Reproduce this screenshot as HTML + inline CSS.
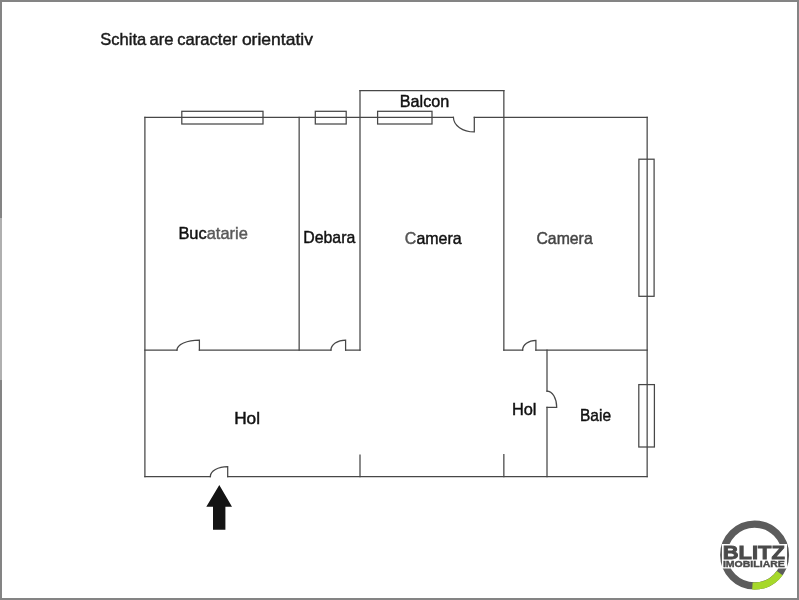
<!DOCTYPE html>
<html>
<head>
<meta charset="utf-8">
<style>
html, body { margin: 0; padding: 0; background: #fff; }
body { width: 799px; height: 600px; overflow: hidden; position: relative; }
svg { position: absolute; left: 0; top: 0; display: block; will-change: transform; }
text { font-family: "Liberation Sans", sans-serif; }
</style>
</head>
<body>
<svg width="799" height="600" viewBox="0 0 799 600">
  <rect x="0" y="0" width="799" height="600" fill="#ffffff"/>
  <!-- outer frame border -->
  <rect x="1" y="1" width="797" height="598" fill="none" stroke="#848484" stroke-width="2"/>
  <rect x="0" y="218" width="2" height="162" fill="#b0b0b0"/>

  <g font-size="17" fill="#1a1a1a" stroke="#1a1a1a" stroke-width="0.45">
    <text x="100.3" y="45.3" textLength="46" lengthAdjust="spacingAndGlyphs">Schita</text>
    <text x="149.6" y="45.3" textLength="24" lengthAdjust="spacingAndGlyphs">are</text>
    <text x="177.2" y="45.3" textLength="60" lengthAdjust="spacingAndGlyphs">caracter</text>
    <text x="241.9" y="45.3" textLength="71" lengthAdjust="spacingAndGlyphs">orientativ</text>
  </g>

  <g fill="none" stroke="#474747" stroke-width="1.25" stroke-linecap="square">
    <!-- top wall with balcony door gap -->
    <path d="M144.9,117.35 H453.4 M474.3,117.35 H647.15"/>
    <!-- left, right walls -->
    <path d="M144.9,117.35 V476.5 M647.15,117.35 V476.5"/>
    <!-- bottom wall with entrance gap -->
    <path d="M144.9,476.5 H210.3 M227.7,476.5 H647.15"/>
    <!-- interior horizontal -->
    <path d="M144.9,350.0 H176.9 M199.4,350.0 H330.9 M345.6,350.0 H360.0 M503.85,350.0 H522.6 M535.9,350.0 H647.15"/>
    <!-- verticals -->
    <path d="M299.15,117.35 V350.0 M360.0,90.6 V350.0 M503.85,90.6 V350.0 M360.0,455 V476.5 M503.85,454.6 V476.5"/>
    <path d="M547.0,350.0 V391 M547.0,407.3 V476.5"/>
    <!-- balcony top -->
    <path d="M360.0,90.6 H503.85"/>
    <!-- windows -->
    <rect x="181.8" y="111.3" width="81.2" height="12.7"/>
    <rect x="315.3" y="111.3" width="30.9" height="12.7"/>
    <rect x="377.6" y="111.3" width="54.4" height="12.7"/>
    <rect x="638.9" y="159.2" width="15.2" height="137.1"/>
    <rect x="638.8" y="384.6" width="15.6" height="62.4"/>
    <!-- doors -->
    <path d="M453.4,117.35 A20.9,14.6 0 0 0 474.3,131.95 L474.3,117.35"/>
    <path d="M176.9,350.0 A22.5,9.9 0 0 1 199.4,340.1 L199.4,350.0"/>
    <path d="M330.9,350.0 A14.7,10 0 0 1 345.6,340 L345.6,350.0"/>
    <path d="M522.6,350.0 A13.3,9.6 0 0 1 535.9,340.4 L535.9,350.0"/>
    <path d="M547.0,391 A9.7,16.3 0 0 1 556.7,407.3 L547.0,407.3"/>
    <path d="M210.3,476.5 A17.4,9.8 0 0 1 227.7,466.7 L227.7,476.5"/>
  </g>

  <!-- entrance arrow -->
  <polygon points="219.3,485 232,506.7 225.4,506.7 225.4,529.7 213,529.7 213,506.7 206.3,506.7" fill="#141414"/>

  <!-- labels -->
  <g font-size="17" fill="#111" stroke="#111" stroke-width="0.45">
    <text x="399.8" y="107.0" textLength="49.5" lengthAdjust="spacingAndGlyphs">Balcon</text>
    <text x="178.40" y="239.30" textLength="69.40" lengthAdjust="spacingAndGlyphs">Buc<tspan fill="#5a5a5a" stroke="#5a5a5a">atarie</tspan></text>
    <text x="303.16" y="242.76" textLength="52.10" lengthAdjust="spacingAndGlyphs">Debara</text>
    <text x="404.86" y="244.12" textLength="56.78" lengthAdjust="spacingAndGlyphs"><tspan fill="#555" stroke="#555">C</tspan>amera</text>
    <text x="536.44" y="244.12" textLength="56.24" lengthAdjust="spacingAndGlyphs" fill="#444" stroke="#444">Camera</text>
    <text x="234.20" y="424.00" textLength="25.84" lengthAdjust="spacingAndGlyphs">Hol</text>
    <text x="511.9" y="415.0" textLength="24.6" lengthAdjust="spacingAndGlyphs">Hol</text>
    <text x="580.00" y="421.2" textLength="31.00" lengthAdjust="spacingAndGlyphs">Baie</text>
  </g>

  <!-- logo -->
  <g>
    <circle cx="754.6" cy="555" r="30.9" fill="none" stroke="#5c5c5c" stroke-width="7.2"/>
    <path d="M 752.4,586 A31,31 0 0 0 779.7,573.2" fill="none" stroke="#a6d82a" stroke-width="7.2"/>
    <rect x="722" y="544" width="65" height="24.5" fill="#fff"/>
    <text x="722.8" y="558.6" font-size="19.2" font-weight="bold" fill="#4a4a4a" stroke="#4a4a4a" stroke-width="0.9" textLength="62" lengthAdjust="spacingAndGlyphs">BLITZ</text>
    <text x="722.9" y="566.9" font-size="9.4" font-weight="bold" fill="#4a4a4a" stroke="#4a4a4a" stroke-width="0.4" textLength="62" lengthAdjust="spacingAndGlyphs">IMOBILIARE</text>
  </g>
</svg>
</body>
</html>
